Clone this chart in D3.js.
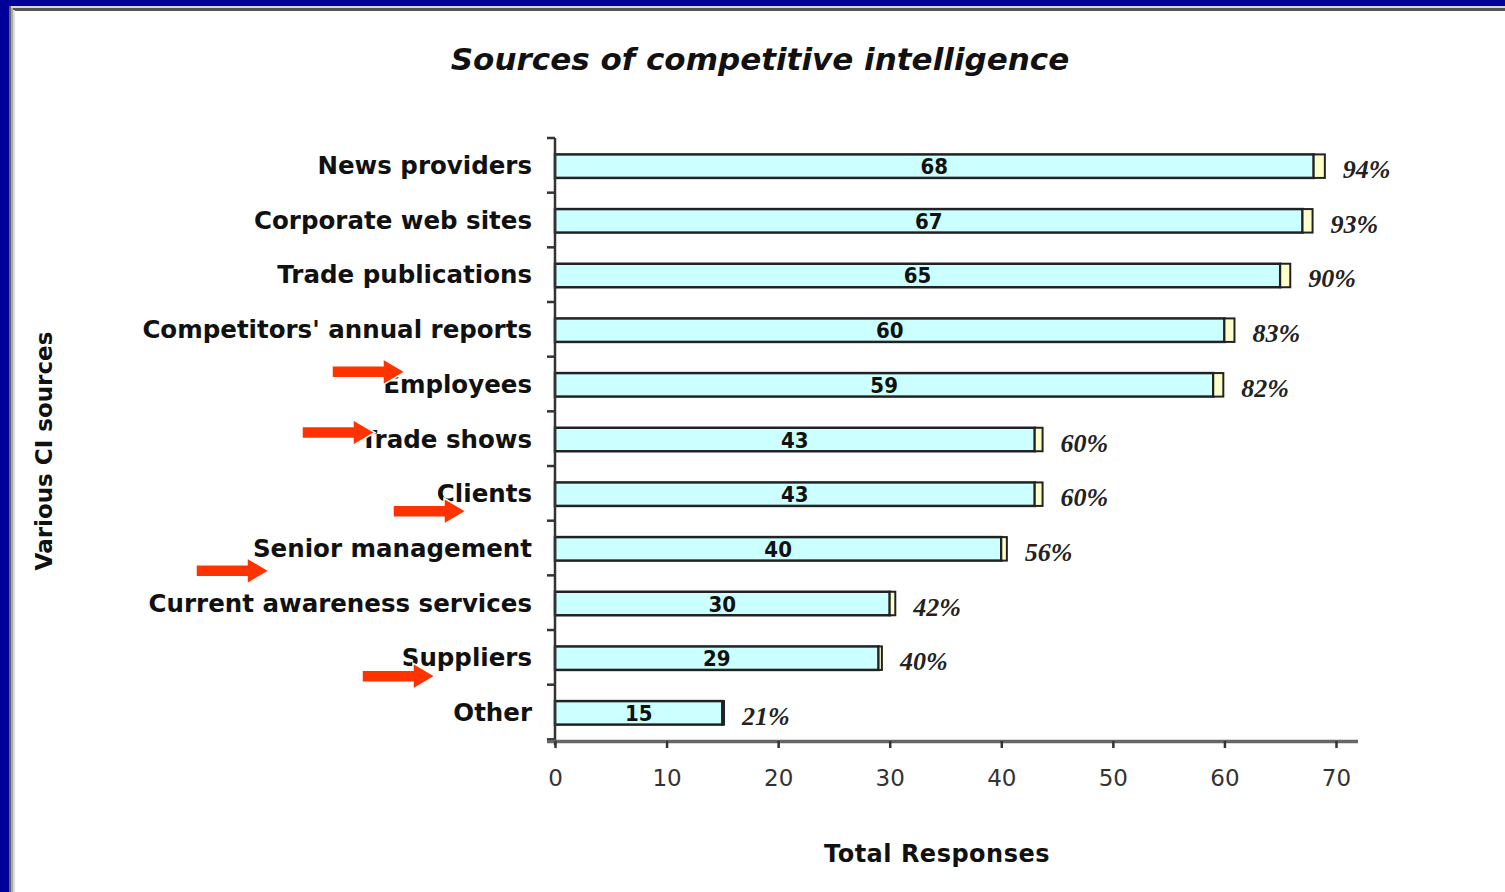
<!DOCTYPE html>
<html>
<head>
<meta charset="utf-8">
<script src="https://cdn.jsdelivr.net/npm/d3@7"></script>
<style>
  html, body { margin: 0; padding: 0; background: #fff; }
  svg { display: block; }
</style>
</head>
<body>
<div id="chart"></div>
<script>
// Chart data
const categories = ['News providers', 'Corporate web sites', 'Trade publications',
  "Competitors' annual reports", 'Employees', 'Trade shows', 'Clients',
  'Senior management', 'Current awareness services', 'Suppliers', 'Other'];
const responses = [68, 67, 65, 60, 59, 43, 43, 40, 30, 29, 15];
const extra = [1, 0.9, 0.9, 0.9, 0.9, 0.7, 0.7, 0.5, 0.5, 0.3, 0.15];
const percents = ['94%', '93%', '90%', '83%', '82%', '60%', '60%', '56%', '42%', '40%', '21%'];
const xTicks = [0, 10, 20, 30, 40, 50, 60, 70];
// red annotation arrows: category they point at, tip x in pixels, vertical shift
const arrowCats = ['Employees', 'Trade shows', 'Clients', 'Senior management', 'Suppliers'];
const arrowTips = [405, 375, 466, 269, 435];
const arrowDy = [-13, -7, 17, 22, 18];

const width = 1505, height = 892;
const margin = {top: 138, right: 147, bottom: 151, left: 555};

const svg = d3.select('#chart')
  .append('svg')
  .attr('width', width)
  .attr('height', height);

// Frame
svg.append('rect').attr('width', width).attr('height', height).attr('fill', '#fff');
svg.append('rect').attr('x', 0).attr('y', 0).attr('width', width).attr('height', 6).attr('fill', '#000099');
svg.append('rect').attr('x', 0).attr('y', 0).attr('width', 9).attr('height', height).attr('fill', '#000099');
svg.append('rect').attr('x', 9).attr('y', 6).attr('width', width).attr('height', 2).attr('fill', '#d8d8d8');
svg.append('rect').attr('x', 9).attr('y', 8).attr('width', width).attr('height', 3).attr('fill', '#555');
svg.append('rect').attr('x', 9).attr('y', 6).attr('width', 2).attr('height', height).attr('fill', '#666');
svg.append('rect').attr('x', 11).attr('y', 8).attr('width', 2).attr('height', height).attr('fill', '#aaa');
svg.append('rect').attr('x', 13).attr('y', 10).attr('width', 2).attr('height', height).attr('fill', '#ddd');

const x = d3.scaleLinear()
  .domain([0, 70])
  .range([margin.left, 1336]);

const y = d3.scaleBand()
  .domain(categories)
  .range([margin.top, height - margin.bottom])
  .paddingInner(0.57)
  .paddingOuter(0.3);

const step = y.step();

// Title
svg.append('text')
  .attr('x', 760).attr('y', 70)
  .attr('text-anchor', 'middle')
  .attr('font-family', 'DejaVu Sans, sans-serif')
  .attr('font-style', 'italic')
  .attr('font-weight', 'bold')
  .attr('font-size', 31)
  .attr('fill', '#111')
  .text('Sources of competitive intelligence');

// Bars (stacked: responses + extra)
const rows = svg.selectAll('g.row')
  .data(categories)
  .enter()
  .append('g')
  .attr('class', 'row');

rows.append('rect')
  .attr('x', x(0))
  .attr('y', d => y(d))
  .attr('width', (d, i) => x(responses[i]) - x(0))
  .attr('height', y.bandwidth())
  .attr('fill', '#ccffff')
  .attr('stroke', '#222')
  .attr('stroke-width', 2.5);

rows.append('rect')
  .attr('x', (d, i) => x(responses[i]))
  .attr('y', d => y(d))
  .attr('width', (d, i) => x(responses[i] + extra[i]) - x(responses[i]))
  .attr('height', y.bandwidth())
  .attr('fill', '#ffffcc')
  .attr('stroke', '#222')
  .attr('stroke-width', 2);

// Count labels
rows.append('text')
  .attr('x', (d, i) => x(responses[i] / 2))
  .attr('y', d => y(d) + y.bandwidth() / 2 + 8)
  .attr('text-anchor', 'middle')
  .attr('font-family', 'DejaVu Sans Condensed, DejaVu Sans, sans-serif')
  .attr('font-weight', 'bold')
  .attr('font-size', 22)
  .attr('fill', '#111')
  .text((d, i) => responses[i]);

// Percent labels
rows.append('text')
  .attr('x', (d, i) => x(responses[i] + extra[i]) + 18)
  .attr('y', d => y(d) + y.bandwidth() / 2 + 12)
  .attr('font-family', 'Liberation Serif, Times New Roman, serif')
  .attr('font-weight', 'bold')
  .attr('font-style', 'italic')
  .attr('font-size', 26)
  .attr('fill', '#222')
  .text((d, i) => percents[i]);

// Category labels
svg.selectAll('text.cat')
  .data(categories)
  .enter()
  .append('text')
  .attr('class', 'cat')
  .attr('x', 532)
  .attr('y', d => y(d) + y.bandwidth() / 2 + 8)
  .attr('text-anchor', 'end')
  .attr('font-family', 'DejaVu Sans, sans-serif')
  .attr('font-weight', 'bold')
  .attr('font-size', 24.5)
  .attr('fill', '#111')
  .text(d => d);

// Y axis line and ticks between categories
const yTop = margin.top, yBottom = height - margin.bottom;
svg.append('line')
  .attr('x1', x(0)).attr('x2', x(0))
  .attr('y1', yTop).attr('y2', yBottom + 4)
  .attr('stroke', '#333').attr('stroke-width', 2.5);

svg.selectAll('line.ytick')
  .data(d3.range(categories.length + 1))
  .enter()
  .append('line')
  .attr('class', 'ytick')
  .attr('x1', x(0) - 8).attr('x2', x(0))
  .attr('y1', i => yTop + i * step).attr('y2', i => yTop + i * step)
  .attr('stroke', '#333').attr('stroke-width', 2.5);

// X axis
const xAxis = svg.append('g')
  .attr('transform', `translate(0,${yBottom})`)
  .call(d3.axisBottom(x).tickValues(xTicks).tickSize(7).tickPadding(22).tickSizeOuter(0));

xAxis.select('.domain')
  .attr('d', `M${x(0) - 8},0.5H1358`)
  .attr('stroke', '#666')
  .attr('stroke-width', 3.5);
xAxis.selectAll('.tick line').attr('stroke', '#333').attr('stroke-width', 2.5);
xAxis.selectAll('.tick text')
  .attr('font-family', 'DejaVu Sans, sans-serif')
  .attr('font-size', 23)
  .attr('fill', '#333');

// Axis titles
svg.append('text')
  .attr('x', 937).attr('y', 862)
  .attr('text-anchor', 'middle')
  .attr('font-family', 'DejaVu Sans, sans-serif')
  .attr('font-weight', 'bold')
  .attr('font-size', 24)
  .attr('letter-spacing', 0.5)
  .attr('fill', '#111')
  .text('Total Responses');

svg.append('text')
  .attr('transform', 'translate(52,451) rotate(-90)')
  .attr('text-anchor', 'middle')
  .attr('font-family', 'DejaVu Sans, sans-serif')
  .attr('font-weight', 'bold')
  .attr('font-size', 23)
  .attr('fill', '#111')
  .text('Various CI sources');

// Red arrows
arrowCats.forEach((c, i) => {
  const cy = y(c) + y.bandwidth() / 2 + arrowDy[i];
  const tip = arrowTips[i];
  const len = 73;
  svg.append('path')
    .attr('d', `M${tip - len},${cy - 6}H${tip - 22}V${cy - 13}L${tip},${cy}L${tip - 22},${cy + 13}V${cy + 6}H${tip - len}Z`)
    .attr('fill', '#ff3300')
    .attr('stroke', '#fff')
    .attr('stroke-width', 1.5);
});
</script>
</body>
</html>
